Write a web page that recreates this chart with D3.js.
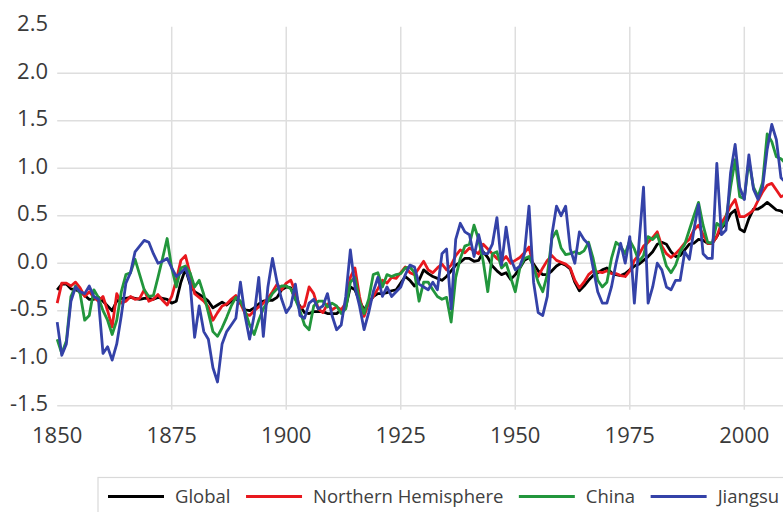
<!DOCTYPE html>
<html lang="en">
<head>
<meta charset="utf-8">
<style>
  body { margin: 0; background: #fff; }
  text { font-family: "Open Sans", "Noto Sans", sans-serif; }
</style>
</head>
<body>
<svg class="chart"></svg>

<script src="https://d3js.org/d3.v7.min.js"></script>
<script type="text/javascript">
const width = 783;
const height = 512;

const startYear = 1850;
const xTicks = [1850, 1875, 1900, 1925, 1950, 1975, 2000];
const yTicks = [-1.5, -1.0, -0.5, 0.0, 0.5, 1.0, 1.5, 2.0, 2.5];

const seriesNames = ["Global", "Northern Hemisphere", "China", "Jiangsu"];
const seriesColors = ["#000000", "#e8181e", "#22963c", "#3442a8"];

// annual anomalies, 1850 .. 2010
const globalValues = [
  -0.28,-0.22,-0.22,-0.27,-0.28,-0.30,-0.34,-0.38,-0.38,-0.36,
  -0.40,-0.45,-0.50,-0.40,-0.37,-0.37,-0.36,-0.37,-0.38,-0.37,
  -0.37,-0.38,-0.36,-0.37,-0.38,-0.42,-0.40,-0.20,-0.06,-0.22,
  -0.30,-0.33,-0.36,-0.40,-0.47,-0.44,-0.41,-0.44,-0.40,-0.37,
  -0.42,-0.49,-0.50,-0.47,-0.43,-0.40,-0.39,-0.39,-0.36,-0.28,
  -0.25,-0.26,-0.38,-0.45,-0.52,-0.53,-0.51,-0.51,-0.51,-0.53,
  -0.53,-0.53,-0.49,-0.46,-0.25,-0.28,-0.40,-0.49,-0.42,-0.35,
  -0.32,-0.32,-0.31,-0.29,-0.28,-0.21,-0.14,-0.18,-0.24,-0.18,
  -0.07,-0.11,-0.14,-0.16,-0.18,-0.14,-0.08,-0.02,0.01,0.05,
  0.05,0.02,0.03,0.12,0.06,-0.03,-0.08,-0.12,-0.10,-0.17,
  -0.12,-0.05,0.03,0.06,-0.01,-0.08,-0.12,-0.12,-0.08,-0.03,
  0.00,-0.02,-0.06,-0.20,-0.29,-0.24,-0.18,-0.13,-0.10,-0.07,
  -0.05,-0.10,-0.12,-0.13,-0.11,-0.07,-0.03,-0.01,0.03,0.07,
  0.12,0.20,0.22,0.20,0.12,0.07,0.08,0.14,0.20,0.21,
  0.25,0.24,0.21,0.21,0.28,0.37,0.42,0.52,0.56,0.36,
  0.33,0.47,0.57,0.57,0.60,0.64,0.60,0.56,0.55,0.52,
  0.56
];

const nhValues = [
  -0.42,-0.21,-0.21,-0.24,-0.20,-0.26,-0.35,-0.30,-0.36,-0.40,
  -0.35,-0.50,-0.67,-0.32,-0.42,-0.40,-0.35,-0.38,-0.37,-0.28,
  -0.40,-0.38,-0.33,-0.39,-0.44,-0.35,-0.18,0.03,0.08,-0.11,
  -0.32,-0.36,-0.40,-0.46,-0.60,-0.52,-0.45,-0.43,-0.38,-0.34,
  -0.42,-0.53,-0.55,-0.50,-0.46,-0.42,-0.37,-0.30,-0.22,-0.28,
  -0.21,-0.18,-0.30,-0.48,-0.45,-0.25,-0.32,-0.48,-0.52,-0.43,
  -0.49,-0.46,-0.49,-0.42,-0.15,-0.05,-0.35,-0.56,-0.42,-0.35,
  -0.27,-0.18,-0.21,-0.15,-0.16,-0.10,-0.04,-0.10,-0.12,-0.05,
  0.02,-0.07,-0.10,-0.05,-0.01,-0.07,-0.02,0.08,0.14,0.11,
  0.16,0.13,0.10,0.20,0.15,0.10,0.05,0.02,0.07,0.00,
  0.03,0.06,0.11,0.17,-0.05,-0.14,-0.05,0.03,0.08,0.03,
  0.01,-0.01,-0.05,-0.18,-0.26,-0.20,-0.12,-0.08,-0.09,-0.10,
  -0.08,-0.11,-0.11,-0.13,-0.14,-0.08,0.03,0.09,0.18,0.22,
  0.27,0.33,0.18,0.10,0.06,0.10,0.15,0.21,0.25,0.35,
  0.40,0.30,0.21,0.21,0.28,0.42,0.50,0.60,0.67,0.49,
  0.49,0.52,0.56,0.66,0.75,0.82,0.84,0.77,0.70,0.72,
  0.75
];

const chinaValues = [
  -0.80,-0.95,-0.82,-0.35,-0.24,-0.32,-0.60,-0.55,-0.28,-0.36,
  -0.50,-0.60,-0.75,-0.60,-0.30,-0.12,-0.10,0.04,-0.12,-0.28,
  -0.35,-0.34,-0.15,0.05,0.26,-0.05,-0.25,-0.05,-0.03,-0.10,
  -0.25,-0.18,-0.33,-0.52,-0.72,-0.77,-0.68,-0.57,-0.45,-0.36,
  -0.40,-0.50,-0.65,-0.75,-0.60,-0.48,-0.40,-0.32,-0.27,-0.24,
  -0.24,-0.27,-0.38,-0.50,-0.65,-0.70,-0.45,-0.40,-0.40,-0.46,
  -0.42,-0.45,-0.53,-0.48,-0.20,-0.15,-0.40,-0.53,-0.38,-0.12,
  -0.10,-0.25,-0.12,-0.14,-0.12,-0.11,-0.05,-0.04,-0.10,-0.40,
  -0.20,-0.20,-0.28,-0.35,-0.38,-0.36,-0.62,-0.15,0.05,0.18,
  0.20,0.40,0.25,0.02,-0.30,0.10,0.12,-0.05,0.00,-0.15,
  -0.30,-0.05,0.05,0.07,-0.04,-0.20,-0.30,-0.12,0.26,0.34,
  0.16,0.09,0.10,0.12,0.10,0.13,0.22,0.05,-0.18,-0.25,
  -0.20,0.05,0.22,0.18,0.10,0.24,0.15,0.02,0.08,0.28,
  0.25,0.30,0.14,-0.03,-0.10,-0.02,0.12,0.20,0.35,0.50,
  0.64,0.40,0.22,0.21,0.42,0.38,0.45,0.80,1.09,0.70,
  0.68,1.08,0.80,0.70,0.85,1.36,1.28,1.12,1.10,1.05,
  1.00
];

const jiangsuValues = [
  -0.62,-0.97,-0.85,-0.40,-0.25,-0.30,-0.32,-0.24,-0.35,-0.38,
  -0.95,-0.88,-1.02,-0.85,-0.55,-0.21,-0.10,0.12,0.18,0.24,
  0.22,0.10,0.00,0.02,0.05,-0.05,-0.14,-0.10,-0.05,-0.20,
  -0.78,-0.45,-0.72,-0.80,-1.10,-1.25,-0.85,-0.72,-0.65,-0.58,
  -0.20,-0.55,-0.80,-0.55,-0.15,-0.77,-0.25,0.05,-0.20,-0.38,
  -0.52,-0.45,-0.22,-0.55,-0.58,-0.42,-0.38,-0.48,-0.45,-0.32,
  -0.55,-0.70,-0.65,-0.35,0.14,-0.25,-0.45,-0.70,-0.52,-0.30,
  -0.15,-0.35,-0.25,-0.35,-0.30,-0.25,-0.12,-0.02,-0.04,-0.22,
  -0.25,-0.28,-0.20,-0.28,0.10,0.15,-0.48,0.25,0.42,0.33,
  0.30,0.07,0.30,0.10,0.10,0.20,0.48,-0.02,0.38,0.05,
  -0.07,-0.03,0.10,0.60,-0.20,-0.52,-0.55,-0.35,0.30,0.60,
  0.50,0.60,0.15,0.00,0.33,0.25,0.20,-0.05,-0.30,-0.42,
  -0.42,-0.25,0.00,0.21,0.00,0.28,-0.42,0.20,0.80,-0.42,
  -0.25,0.00,-0.07,-0.25,-0.28,-0.18,-0.18,0.12,0.04,0.35,
  0.62,0.10,0.05,0.05,1.05,0.30,0.35,0.95,1.25,0.80,
  0.67,1.14,0.78,0.67,0.80,1.20,1.46,1.30,0.90,0.85,
  0.90
];

const allSeries = [globalValues, nhValues, chinaValues, jiangsuValues];

var svg = d3.select('.chart')
    .attr('width', width)
    .attr('height', height);

svg.append('rect')
    .attr('width', width)
    .attr('height', height)
    .attr('fill', '#fff');

const x = d3.scaleLinear().domain([1850, 2000]).range([57.2, 744.3]);
const y = d3.scaleLinear().domain([-1.5, 2.5]).range([405.7, 25.7]);

const gridColor = '#dedede';

// horizontal grid (no line at the top value)
svg.append('g')
    .selectAll('line')
    .data(yTicks.filter(d => d < 2.5))
    .enter().append('line')
    .attr('x1', x(1850))
    .attr('x2', width + 10)
    .attr('y1', d => y(d))
    .attr('y2', d => y(d))
    .style('stroke', gridColor)
    .style('stroke-width', 1.5);

// vertical grid
svg.append('g')
    .selectAll('line')
    .data(xTicks.filter(d => d > 1850))
    .enter().append('line')
    .attr('x1', d => x(d))
    .attr('x2', d => x(d))
    .attr('y1', y(2.5) + 1)
    .attr('y2', y(-1.5) + 4)
    .style('stroke', gridColor)
    .style('stroke-width', 1.5);

// y tick labels
svg.append('g')
    .selectAll('text')
    .data(yTicks)
    .enter().append('text')
    .attr('x', 48)
    .attr('y', d => y(d) + 5.5)
    .attr('text-anchor', 'end')
    .style('font-size', '22px')
    .style('fill', '#3a3a3a')
    .text(d => d3.format('.1f')(d).replace('\u2212', '-'));

// x tick labels
svg.append('g')
    .selectAll('text')
    .data(xTicks)
    .enter().append('text')
    .attr('x', d => x(d))
    .attr('y', 443)
    .attr('text-anchor', 'middle')
    .style('font-size', '22px')
    .style('fill', '#3a3a3a')
    .text(d => d);

const line = d3.line()
    .x((d, i) => x(startYear + i))
    .y(d => y(d));

svg.append('g')
    .selectAll('path')
    .data(allSeries)
    .enter().append('path')
    .attr('d', line)
    .style('fill', 'none')
    .style('stroke', (d, i) => seriesColors[i])
    .style('stroke-width', 2.8)
    .style('stroke-linejoin', 'round');

// legend
const legend = svg.append('g');
legend.append('rect')
    .attr('x', 98)
    .attr('y', 477.5)
    .attr('width', 720)
    .attr('height', 60)
    .style('fill', 'none')
    .style('stroke', '#d9d9d9')
    .style('stroke-width', 1.2);

let lx = 108;
seriesNames.forEach((name, i) => {
    legend.append('line')
        .attr('x1', lx)
        .attr('x2', lx + 56)
        .attr('y1', 496.5)
        .attr('y2', 496.5)
        .style('stroke', seriesColors[i])
        .style('stroke-width', 2.8);
    const t = legend.append('text')
        .attr('x', lx + 67)
        .attr('y', 503)
        .style('font-size', '18.5px')
        .style('fill', '#404040')
        .text(name);
    lx = lx + 67 + t.node().getComputedTextLength() + 15.5;
});
</script>
</body>
</html>
